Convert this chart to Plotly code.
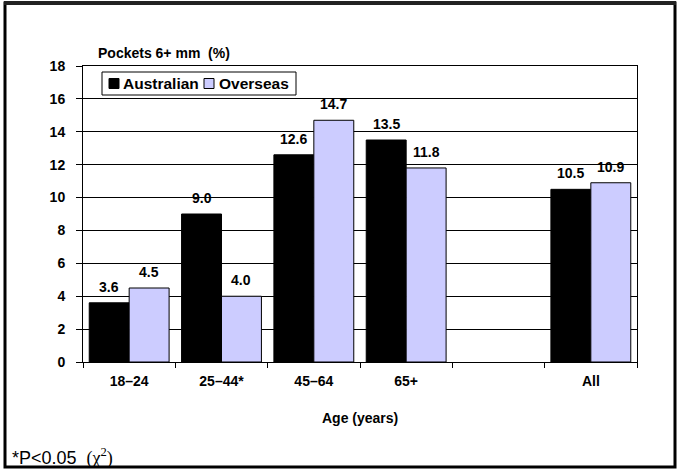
import plotly.graph_objects as go

categories = ["18–24", "25–44*", "45–64", "65+", " ", "All"]
australian = [3.6, 9.0, 12.6, 13.5, None, 10.5]
overseas = [4.5, 4.0, 14.7, 11.8, None, 10.9]
series_names = ["Australian", "Overseas"]
series_colors = ["#000000", "#CCCCFF"]
y_ticks = [0, 2, 4, 6, 8, 10, 12, 14, 16, 18]

FONT = "Liberation Sans, Arial, sans-serif"
SERIF = "Liberation Serif, Times New Roman, serif"
W, H = 678, 470
ML, MR, MT, MB = 83, 41, 66, 108
PW, PH = W - ML - MR, H - MT - MB
BARGAP = 0.135


def px(x):
    return (x - ML) / PW


def py(y):
    return (H - MB - y) / PH


fig = go.Figure()
for name, color, vals in zip(series_names, series_colors, [australian, overseas]):
    fig.add_trace(go.Bar(
        name=name, x=categories, y=vals,
        marker=dict(color=color, line=dict(color="#000000", width=1)),
        showlegend=False, hoverinfo="x+y",
    ))

annotations = []
# value labels above each bar (placed at the bar's own x offset within its group)
cat_px = PW / len(categories)
n_series = len(series_names)
bar_px = cat_px * (1 - BARGAP) / n_series
for i, vals in enumerate([australian, overseas]):
    shift = (i - (n_series - 1) / 2) * bar_px
    for c, v in zip(categories, vals):
        if v is None:
            continue
        annotations.append(dict(
            x=c, y=v, xref="x", yref="y", text=f"{v:.1f}",
            xanchor="center", yanchor="bottom", xshift=shift, yshift=6,
            showarrow=False,
            font=dict(family=FONT, size=14, color="#000", weight="bold")))

# custom legend box (compact like the reference)
legend_box = dict(x0=102, x1=296, y0=72, y1=95)
legend_items = [(109, 121), (204, 217)]  # swatch left, text left (pixels)
shapes = [
    dict(type="rect", xref="paper", yref="paper",
         x0=px(legend_box["x0"]), x1=px(legend_box["x1"]),
         y0=py(legend_box["y1"]), y1=py(legend_box["y0"]),
         line=dict(color="#000", width=1), fillcolor="white", layer="above"),
]
ymid = (legend_box["y0"] + legend_box["y1"]) / 2
for (sx, tx), name, color in zip(legend_items, series_names, series_colors):
    shapes.append(dict(type="rect", xref="paper", yref="paper",
                       x0=px(sx), x1=px(sx + 10), y0=py(ymid + 5), y1=py(ymid - 5),
                       line=dict(color="#000", width=1), fillcolor=color, layer="above"))
    annotations.append(dict(text=name, xref="paper", yref="paper",
                            x=px(tx), y=py(ymid), xanchor="left", yanchor="middle",
                            showarrow=False,
                            font=dict(family=FONT, size=15.5, color="#000", weight="bold")))

annotations += [
    dict(text="Pockets 6+ mm  (%)", xref="paper", yref="paper",
         x=px(96), y=py(53), xanchor="left", yanchor="middle",
         showarrow=False,
         font=dict(family=FONT, size=14, color="#000", weight="bold")),
    dict(text="Age (years)", xref="paper", yref="paper",
         x=0.5, y=py(418), xanchor="center", yanchor="middle",
         showarrow=False,
         font=dict(family=FONT, size=14, color="#000", weight="bold")),
    dict(text="*P<0.05  <span style='font-family:" + SERIF + "'>(χ<sup>2</sup>)</span>",
         xref="paper", yref="paper",
         x=px(10), y=py(457), xanchor="left", yanchor="middle",
         showarrow=False,
         font=dict(family=FONT, size=18, color="#000")),
]

shapes += [
    dict(type="rect", xref="paper", yref="paper",
         x0=px(5), x1=px(675), y0=py(467), y1=py(3),
         line=dict(color="#000", width=3)),
    dict(type="line", xref="paper", yref="paper",
         x0=px(4), x1=px(676), y0=py(3), y1=py(3),
         line=dict(color="#222", width=4)),
]

fig.update_layout(
    width=W, height=H,
    margin=dict(l=ML, r=MR, t=MT, b=MB),
    paper_bgcolor="white", plot_bgcolor="white",
    barmode="group", bargap=BARGAP, bargroupgap=0,
    font=dict(family=FONT, color="#000"),
    showlegend=False,
    xaxis=dict(
        type="category", tickson="boundaries", ticks="outside", ticklen=5,
        tickcolor="#000", showline=True, linecolor="#000", linewidth=1,
        mirror=True, showgrid=False, ticklabelstandoff=6,
        tickfont=dict(family=FONT, size=14, color="#000", weight="bold"),
    ),
    yaxis=dict(
        range=[0, 18], tickvals=y_ticks, ticks="outside", ticklen=6,
        tickcolor="#000", showline=True, linecolor="#000", linewidth=1,
        mirror=True, showgrid=True, gridcolor="#000", gridwidth=1,
        zeroline=False, ticklabelstandoff=8,
        tickfont=dict(family=FONT, size=14, color="#000", weight="bold"),
    ),
    annotations=annotations,
    shapes=shapes,
)

fig.write_html("out.html")
